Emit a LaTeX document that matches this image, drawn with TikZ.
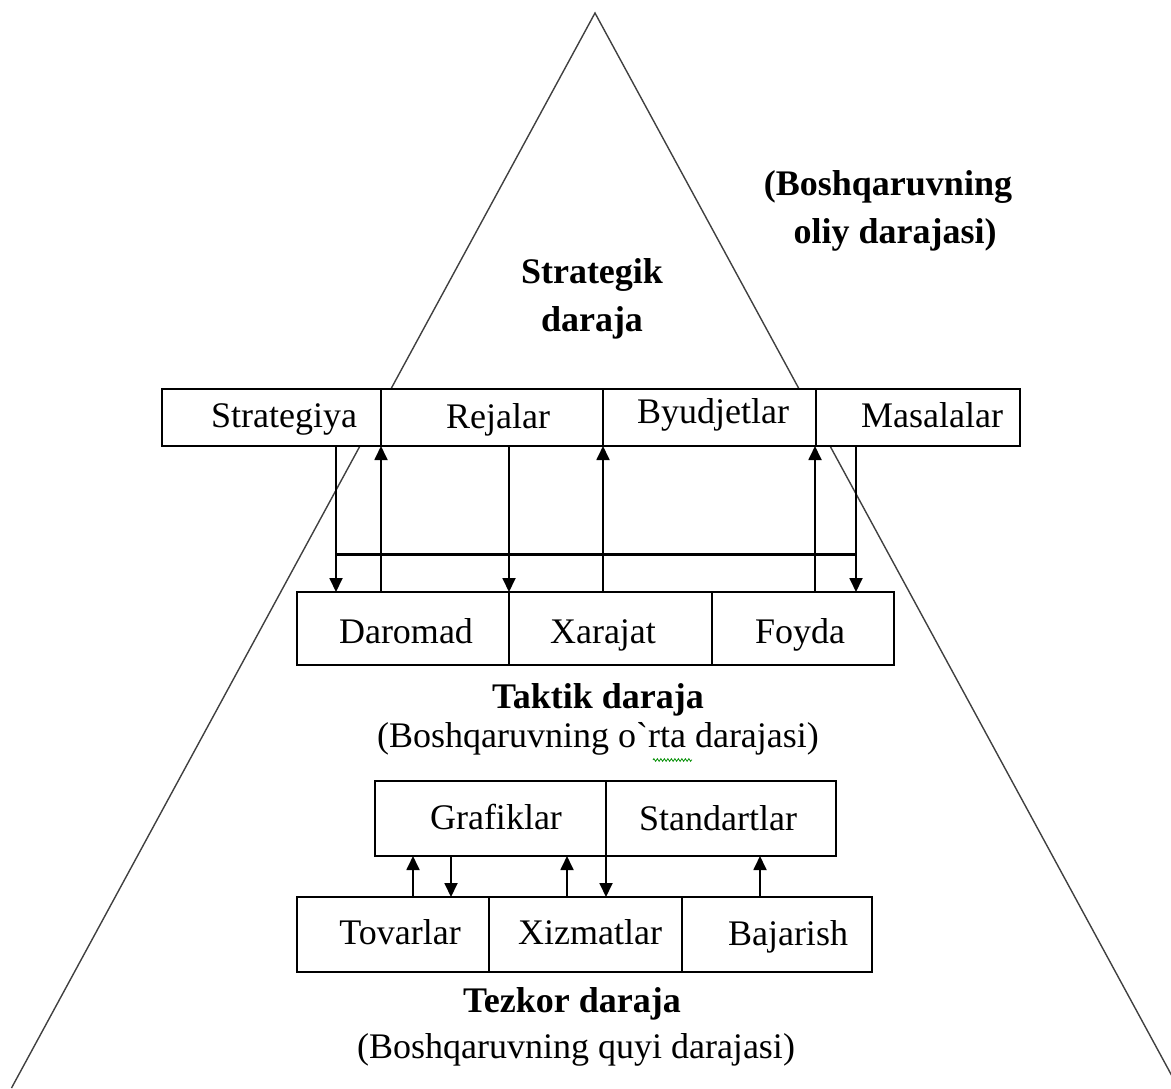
\documentclass[tikz,border=0pt]{standalone}
\usepackage{fontspec}
\setmainfont{Liberation Serif}
\usetikzlibrary{arrows.meta,decorations.pathmorphing}
\begin{document}
\begin{tikzpicture}[x=1pt,y=-1pt,
  cell/.style={draw, line width=1.8pt, fill=white, inner sep=0pt, outer sep=0pt, anchor=north west},
  word/.style={font=\fontsize{36}{40}\selectfont, inner sep=0pt, anchor=base},
  heading/.style={inner sep=0pt, anchor=base, font=\fontsize{36}{40}\selectfont\bfseries},
  link/.style={line width=1.8pt, -{Triangle[width=13pt,length=14pt]}},
  bus/.style={line width=3pt},
  side/.style={line width=1.4pt, draw=black!75}]

\useasboundingbox (0,0) rectangle (1171,1088);

% pyramid outline
\coordinate (apex) at (595,13);
\coordinate (baseL) at (11.5,1088);
\coordinate (baseR) at (1178.5,1088);
\draw[side] (baseL) -- (apex) -- (baseR);

% strategic level headings
\node[heading] (strat1) at (592,283) {Strategik};
\node[heading] (strat2) at (592,331) {daraja};
\node[heading] (high1) at (888,195) {(Boshqaruvning};
\node[heading] (high2) at (895,243) {oliy darajasi)};

% top row
\node[cell, minimum width=219pt, minimum height=57pt] (s1) at (162,389) {};
\node[cell, minimum width=222pt, minimum height=57pt] (s2) at (381,389) {};
\node[cell, minimum width=213pt, minimum height=57pt] (s3) at (603,389) {};
\node[cell, minimum width=204pt, minimum height=57pt] (s4) at (816,389) {};
\node[word] (ts1) at (284,427) {Strategiya};
\node[word] (ts2) at (498,428) {Rejalar};
\node[word] (ts3) at (713,423) {Byudjetlar};
\node[word] (ts4) at (932,427) {Masalalar};

% tactical row
\node[cell, minimum width=212pt, minimum height=73pt] (m1) at (297,592) {};
\node[cell, minimum width=203pt, minimum height=73pt] (m2) at (509,592) {};
\node[cell, minimum width=182pt, minimum height=73pt] (m3) at (712,592) {};
\node[word] (tm1) at (406,643) {Daromad};
\node[word] (tm2) at (603,643) {Xarajat};
\node[word] (tm3) at (800,643) {Foyda};

\node[heading] (tact) at (598,708) {Taktik daraja};
\node[word] (mid) at (598,747) {(Boshqaruvning o\textasciigrave rta darajasi)};
\draw[green!55!black, line width=0.8pt,
      decorate, decoration={zigzag, segment length=3.5pt, amplitude=1.3pt}]
      (653,760) -- (692,760);

% links between the strategic and tactical rows
\coordinate (busL) at (336,554);
\coordinate (busR) at (856,554);
\draw[link] (336,0 |- s1.south) -- (336,0 |- m1.north);
\draw[link] (381,0 |- m1.north) -- (381,0 |- s1.south);
\draw[link] (509,0 |- s2.south) -- (509,0 |- m2.north);
\draw[link] (603,0 |- m2.north) -- (603,0 |- s2.south);
\draw[link] (815,0 |- m3.north) -- (815,0 |- s3.south);
\draw[link] (856,0 |- s4.south) -- (856,0 |- m3.north);
\draw[bus] (busL) -- (busR);

% operational rows
\node[cell, minimum width=231pt, minimum height=75pt] (g1) at (375,781) {};
\node[cell, minimum width=230pt, minimum height=75pt] (g2) at (606,781) {};
\node[word] (tg1) at (496,829) {Grafiklar};
\node[word] (tg2) at (718,830) {Standartlar};

\node[cell, minimum width=192pt, minimum height=75pt] (b1) at (297,897) {};
\node[cell, minimum width=193pt, minimum height=75pt] (b2) at (489,897) {};
\node[cell, minimum width=190pt, minimum height=75pt] (b3) at (682,897) {};
\node[word] (tb1) at (400,944) {Tovarlar};
\node[word] (tb2) at (590,944) {Xizmatlar};
\node[word] (tb3) at (788,945) {Bajarish};

\draw[link] (413,0 |- b1.north) -- (413,0 |- g1.south);
\draw[link] (451,0 |- g1.south) -- (451,0 |- b1.north);
\draw[link] (567,0 |- b2.north) -- (567,0 |- g1.south);
\draw[link] (606,0 |- g1.south) -- (606,0 |- b2.north);
\draw[link] (760,0 |- b3.north) -- (760,0 |- g2.south);

\node[heading] (oper) at (572,1012) {Tezkor daraja};
\node[word] (low) at (576,1058) {(Boshqaruvning quyi darajasi)};
\end{tikzpicture}
\end{document}
